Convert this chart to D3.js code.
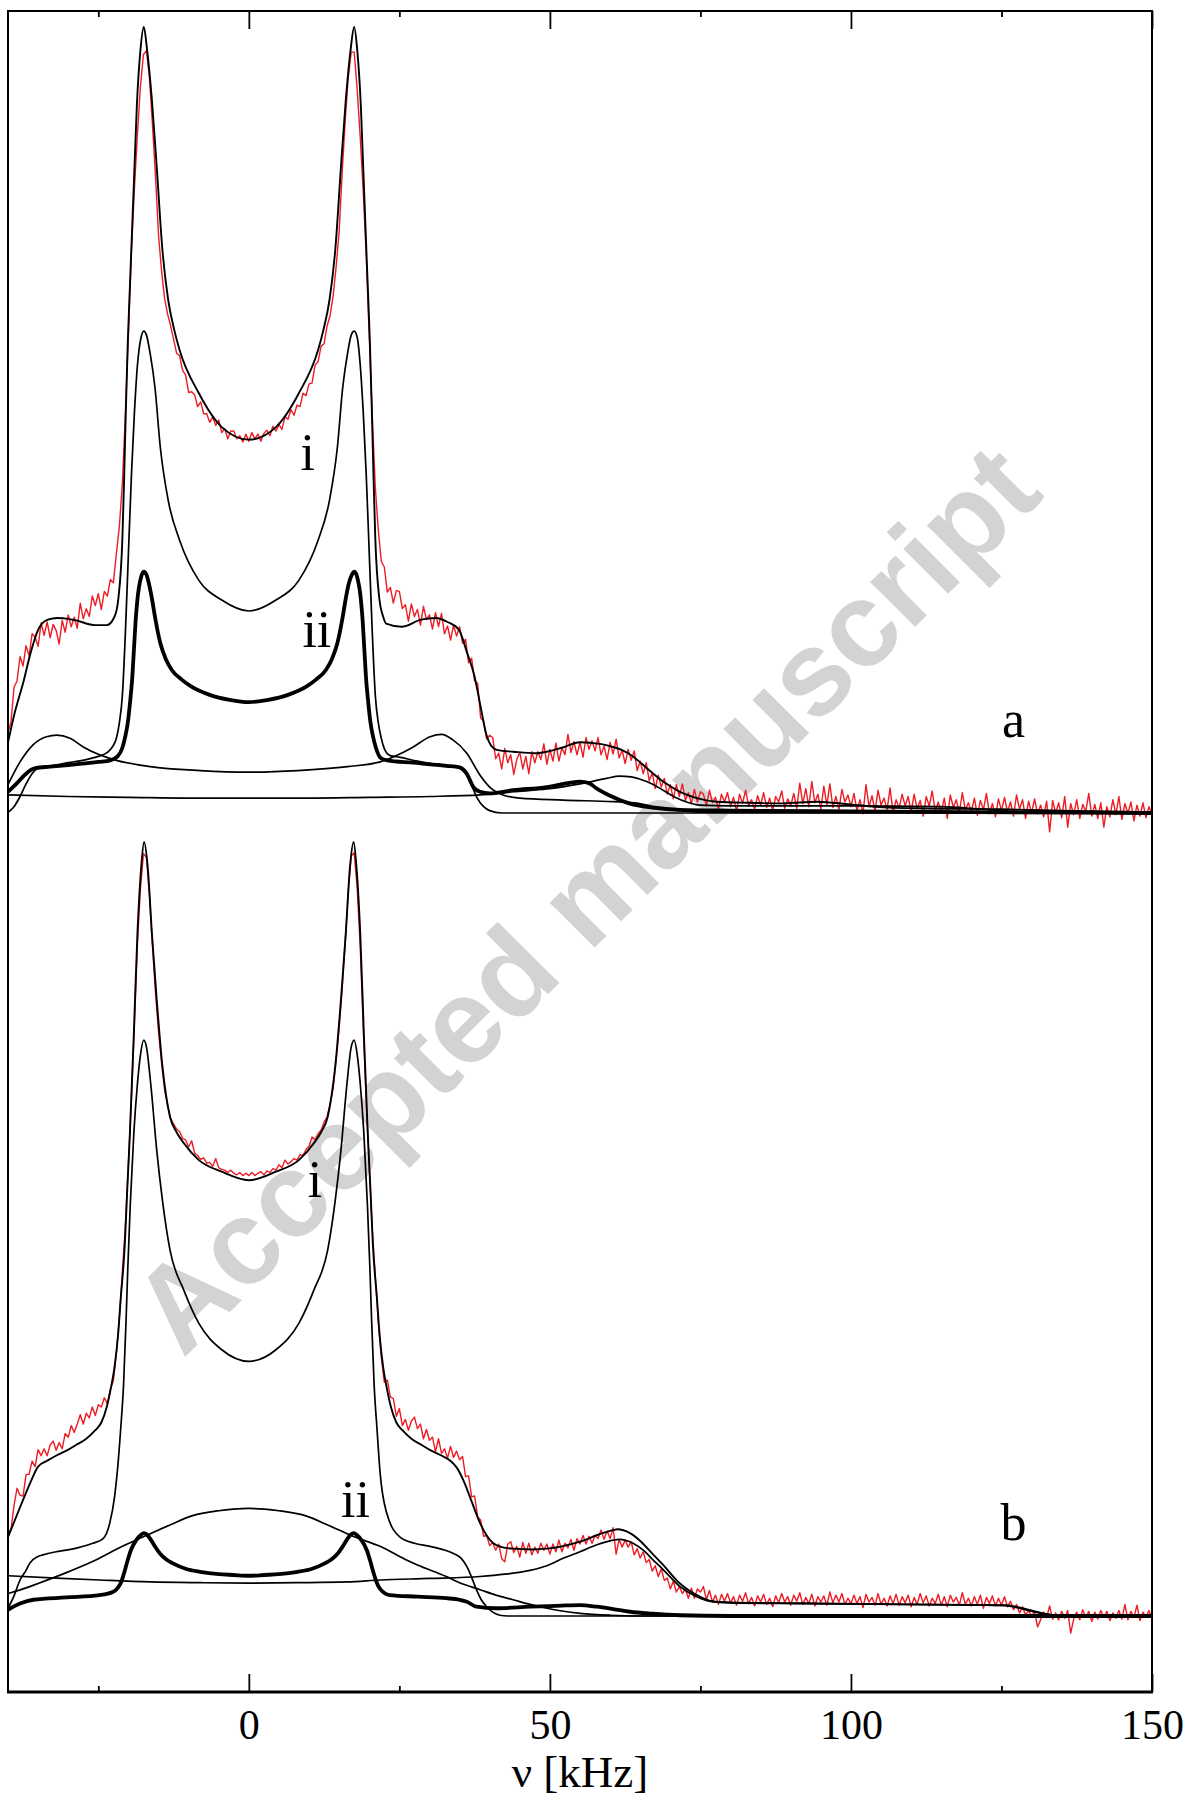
<!DOCTYPE html>
<html><head><meta charset="utf-8">
<script src="https://cdn.jsdelivr.net/npm/d3@7"></script>
<style>body{margin:0;background:#fff} svg{display:block}</style>
</head><body>
<svg id="c" width="1192" height="1800"></svg>
<script>
// ---------------- data ----------------
const freqDomain = [-40, 150];
const majorTicks = [0, 50, 100, 150];
const minorTicks = [-25, 25, 75, 125];
const axisTitle = "ν [kHz]";
const watermark = "Accepted manuscript";
// frequency grid of the measured spectra (0.5 kHz sampling)
const redGrid = d3.range(-40, 150.001, 0.5);

// panel a – measured spectrum (red)
const aRed = [
10.3,11.6,16.0,16.8,19.9,18.7,21.3,20.0,22.8,22.4,21.2,24.2,22.6,24.3,22.3,24.0,23.2,21.5,24.5,23.0,25.2,23.7,24.9,23.5,26.7,24.7,26.0,25.0,27.6,26.4,27.9,25.9,28.2,27.6,29.7,29.3,33.0,
36.5,42.0,51.0,61.0,71.5,79.5,86.5,92.5,96.5,97.0,93.5,87.5,81.0,73.5,69.0,65.5,63.5,62.0,
60.3,58.5,58.2,56.3,55.7,53.5,53.6,53.2,51.7,52.3,50.8,50.8,49.7,50.4,49.3,50.0,48.4,48.9,47.6,48.6,48.6,47.6,48.0,47.2,48.2,47.3,48.4,47.6,48.2,47.3,48.3,48.7,48.0,49.2,48.6,49.4,48.8,50.4,50.1,51.3,50.6,51.9,51.7,53.4,53.1,54.6,54.7,57.0,57.4,59.4,59.7,
62.0,63.3,65.8,69.5,74.0,81.5,88.0,93.5,96.8,96.8,92.0,86.0,79.0,71.0,60.5,50.5,41.5,36.0,
32.0,31.3,28.1,28.7,26.7,28.3,28.2,26.0,26.5,24.4,26.6,25.0,25.9,23.9,26.3,24.6,25.2,23.4,25.5,23.7,25.4,22.8,23.8,22.0,23.9,22.5,23.7,21.6,22.1,19.1,19.7,16.8,16.5,12.1,11.7,9.4,9.9,
9.6,6.9,7.6,5.6,8.2,6.4,7.4,4.9,6.8,7.7,5.6,7.2,5.0,7.8,6.4,7.8,6.8,8.8,6.2,8.1,6.6,8.9,6.6,8.3,7.4,10.0,7.7,9.1,7.4,9.0,7.1,9.6,8.1,9.2,7.9,9.6,7.4,8.5,6.8,9.0,7.5,9.4,7.0,8.0,6.3,8.1,6.7,7.9,5.4,6.6,5.0,6.4,4.1,5.1,3.1,4.8,3.3,4.4,2.4,3.6,1.8,3.6,2.1,3.7,1.6,2.6,1.2,3.0,1.4,2.7,
2.4,0.9,2.9,1.3,2.0,0.5,2.4,1.4,2.6,0.8,
2.0,0.2,2.4,1.2,2.9,0.9,1.7,0.5,2.2,1.0,
2.6,0.7,1.9,0.3,2.1,1.4,2.8,0.6,1.8,0.9,
2.5,0.6,3.8,1.2,3.1,0.8,4.0,1.3,2.4,0.5,
3.4,1.0,3.7,0.7,2.1,0.4,3.0,1.4,2.3,0.8,
2.5,0.3,1.7,-0.1,3.6,0.8,2.2,0.2,2.9,1.0,
1.9,0.4,3.2,0.0,1.7,0.6,2.4,0.9,2.1,0.1,
2.4,0.5,1.6,-0.4,2.1,0.9,2.8,0.2,1.4,0.1,
1.9,-0.7,2.3,0.7,1.7,0.0,2.6,0.4,1.3,0.2,
1.9,-0.3,1.6,0.4,2.5,-0.1,1.2,-0.5,1.8,0.3,
2.0,0.1,1.4,-0.4,2.3,0.5,1.7,-0.7,1.5,0.0,
1.8,-0.1,1.0,-0.5,1.5,-2.4,1.6,0.0,1.3,-0.6,
2.1,-1.8,1.2,-0.2,1.7,-0.7,1.1,0.2,2.5,-0.4,
1.1,-0.7,1.3,-1.8,0.8,-0.5,1.7,-0.2,2.1,-0.8,
1.2,-0.1,1.4,-1.0,1.0,-0.4,1.3,-0.6,0.8,-0.2];

// panel a – total fit and components [kHz, intensity]
const aFit = [[-40,9.0],[-38.8,13.0],[-37.5,16.5],[-36.2,20.5],[-35,23.3],[-33.4,24.6],[-31.8,24.8],[-30,24.7],[-28.7,24.5],[-25.5,23.9],[-23.6,23.9],[-22.3,25.0],[-21.7,27.1],[-21.0,35],[-20.7,43],[-20.4,52],[-20.1,60],[-19.7,68],[-19.4,74],[-19.0,82],[-18.6,90],[-18.0,97.1],[-17.45,100],[-16.9,97.1],[-16.1,90.7],[-15.3,82.2],[-14.35,71.6],[-13.4,65.3],[-12.4,61.5],[-11.5,58.9],[-8.3,53.4],[-4.5,49.1],[0,47.5],[4.5,49.1],[8.3,53.4],[11.5,58.9],[12.4,61.5],[13.4,65.3],[14.35,71.6],[15.3,82.2],[16.1,90.7],[16.9,97.1],[17.5,100],[18.0,97.1],[18.6,90],[19.0,82],[19.4,74],[19.7,68],[20.1,60],[20.4,52],[20.7,43],[21.0,35],[21.7,27.1],[22.3,25.0],[22.8,24.1],[25.4,23.7],[28.6,24.6],[31.1,24.8],[33,24.3],[34.9,23.3],[36.2,20.5],[37.5,17.3],[38.5,13.5],[39.4,10.1],[40.3,8.5],[41.3,8.0],[43.9,7.8],[47.6,7.6],[49.5,7.8],[52,8.3],[55,9.0],[58.3,8.8],[60.5,8.4],[62,8.0],[63.8,7.2],[66.1,5.7],[68.8,4.0],[71.6,2.7],[74.4,1.9],[77.7,1.44],[83,1.3],[88.8,1.23],[94.3,1.44],[99.8,1.1],[105.4,0.72],[110.9,0.6],[124.8,0.47],[135,0.3],[150,0.1]];
const aI = [[-40,0.1],[-39,0.8],[-38,2.1],[-37,3.7],[-36,5.0],[-35,5.7],[-33,6.0],[-30,6.4],[-27,6.8],[-25,7.2],[-23.5,7.7],[-22.5,8.6],[-22,9.5],[-21.5,11.5],[-21.0,15],[-20.5,23],[-20.0,33],[-19.5,43],[-19.0,51],[-18.5,57],[-17.9,60.5],[-17.45,61.3],[-17.0,60.8],[-16.4,58.5],[-15.6,54.2],[-14.7,46.5],[-13.4,39.8],[-11.5,34.7],[-8.3,29.6],[-4.5,27.1],[0,25.7],[4.5,27.1],[8.3,29.6],[11.5,34.7],[13.4,39.8],[14.7,46.5],[15.6,54.2],[16.4,58.5],[17.0,60.8],[17.5,61.3],[18.0,60.5],[18.5,57],[19.0,51],[19.5,43],[20.0,33],[20.5,23],[21.0,15],[21.5,11.5],[22,9.5],[22.5,8.2],[23.5,7.3],[25,7.1],[28,6.6],[31,6.2],[34,5.9],[35,5.7],[36,5.0],[37,3.5],[38,1.8],[39,0.8],[40,0.3],[42,0],[150,0]];
const aII = [[-40,2.7],[-38.5,3.8],[-37,5.0],[-35.5,5.7],[-33,5.9],[-30,6.1],[-25,6.5],[-23,6.7],[-21.8,7.2],[-21.0,8.3],[-20.5,9.8],[-20.1,11.5],[-19.7,14.3],[-19.4,16.8],[-19.1,20.6],[-18.8,24.5],[-18.5,27.2],[-17.9,30.0],[-17.45,30.7],[-17.0,30.3],[-16.6,29.2],[-16.1,27.3],[-15.6,25.0],[-14.7,21.6],[-13.8,19.6],[-12.8,18.2],[-11.2,17.0],[-9.6,16.1],[-6.4,15.0],[-3.2,14.4],[0,14.1],[3.2,14.4],[6.4,15.0],[9.6,16.1],[11.2,17.0],[12.8,18.2],[13.8,19.6],[14.7,21.6],[15.6,25.0],[16.1,27.3],[16.6,29.2],[17.1,30.3],[17.55,30.7],[18.0,30.0],[18.6,27.2],[18.9,24.5],[19.2,20.6],[19.5,16.8],[19.8,14.3],[20.2,11.5],[20.6,9.8],[21.1,8.3],[21.9,7.0],[23,6.7],[27.3,6.4],[32.8,6.0],[35,5.8],[36.2,5.0],[37.3,3.3],[38.4,2.7],[40,2.5],[43.9,2.9],[49.5,3.3],[53,3.8],[55,4.0],[56.5,3.8],[57.8,3.1],[60,2.2],[63.3,1.2],[67,0.7],[71.6,0.4],[80,0.3],[100,0.2],[120,0.1],[150,0]];
const aP = [[-40,3.6],[-38,6.5],[-35.8,8.7],[-33.6,9.7],[-31.9,9.9],[-29.7,9.5],[-27.5,8.4],[-24.8,7.4],[-22,6.7],[-16.4,5.9],[-8.1,5.4],[0,5.2],[8.1,5.4],[16.4,5.9],[21.8,6.5],[24.8,7.4],[27.3,8.4],[30.1,9.7],[32.0,10.0],[33.9,9.3],[36.2,7.6],[38.4,4.8],[40,3.3],[42.2,2.3],[45,1.9],[52.2,1.65],[60.5,1.44],[64,1.3],[66.1,1.0],[68,0.6],[71.6,0.3],[76,0.1],[150,0]];
const aW = [[-40,2.3],[-30,2.1],[-20,2.0],[-10,1.9],[0,1.9],[10,1.9],[20,2.0],[30,2.1],[38.4,2.3],[43.9,2.7],[49.5,3.05],[55,3.7],[59.4,4.4],[61.6,4.7],[63.5,4.6],[65,4.3],[67,3.7],[68.8,2.9],[70.8,2.0],[72.7,1.4],[74.9,1.0],[80,0.9],[100,0.9],[115,0.8],[120,0.6],[125,0.3],[130,0.1],[150,0]];

// panel b – measured spectrum (red)
const bRed = [
10.7,11.2,14.3,16.5,15.6,15.5,18.3,18.3,20.0,19.3,21.5,20.7,21.6,20.7,22.1,22.6,21.4,22.4,21.6,23.6,23.1,24.6,23.7,24.8,26.0,24.8,26.2,25.6,27.0,25.9,27.3,27.0,28.2,27.4,29.3,30.4,34.0,
38.5,44.5,50.5,58.5,67.0,76.5,87.0,94.0,98.5,98.0,93.0,86.5,80.5,75.5,71.5,68.0,66.0,64.3,
63.6,62.9,62.6,61.7,61.5,60.6,61.4,59.8,59.5,59.0,59.2,58.5,58.6,58.1,59.1,57.9,57.7,57.6,57.3,57.6,57.2,57.0,57.3,56.9,57.2,56.9,57.3,56.9,57.2,57.4,57.0,57.5,57.3,57.8,57.6,58.3,57.9,58.9,58.4,58.7,59.1,58.9,59.6,59.5,60.3,60.7,61.9,61.5,62.3,62.8,63.8,
64.5,66.2,68.2,71.8,76.0,81.0,87.0,93.5,98.2,98.6,94.0,86.5,76.0,66.5,58.0,50.0,44.0,38.0,
33.4,30.2,30.5,28.3,28.1,25.8,26.8,24.6,25.4,24.0,25.2,25.7,24.2,24.8,22.9,24.1,22.7,23.1,21.2,22.9,21.0,21.6,20.4,21.9,20.5,21.3,20.2,20.6,18.0,18.1,15.4,15.5,12.8,12.4,10.3,10.4,9.1,
9.5,8.5,9.3,7.4,7.0,9.3,9.6,8.2,9.0,7.6,9.5,8.1,9.4,7.9,8.9,8.1,9.4,8.5,9.3,8.0,9.3,8.3,9.8,8.3,9.4,8.8,9.9,8.5,10.0,9.3,10.4,9.3,10.3,9.4,10.4,10.0,11.1,9.9,11.0,10.0,11.4,8.0,9.9,8.9,9.8,8.9,9.6,7.9,8.7,7.5,8.3,6.9,7.3,5.8,6.5,5.1,6.1,4.6,4.9,3.5,4.5,3.1,3.8,2.9,3.5,2.3,3.6,2.3,3.5,3.1,
3.8,2.1,3.3,1.8,2.7,1.5,2.8,1.9,2.9,1.7,
2.5,1.4,2.7,1.9,3.0,1.6,2.4,1.3,2.6,1.8,
2.8,1.5,2.3,1.2,2.6,1.7,2.9,1.8,2.5,1.4,
2.7,1.9,3.0,1.5,2.4,1.6,2.8,1.3,2.5,1.8,
2.6,1.4,3.1,1.7,2.7,1.8,2.9,1.5,2.3,1.6,
2.7,1.6,2.5,1.1,2.8,1.8,2.4,1.4,2.9,1.5,
2.3,1.3,2.6,1.6,2.8,1.4,2.5,1.7,2.7,1.2,
2.4,1.5,2.9,1.7,2.6,1.3,2.3,1.6,2.8,1.4,
2.5,1.2,2.7,1.8,2.4,1.4,3.0,1.5,2.3,1.3,
2.5,1.5,2.7,1.0,2.4,1.6,2.6,1.3,2.3,1.4,
2.5,1.2,1.9,0.8,1.5,0.4,1.2,0.1,0.7,0.0,
0.6,-1.4,-0.5,0.5,-0.2,1.3,-0.4,0.4,-0.5,0.6,
-0.3,0.7,-2.2,-0.4,0.5,-0.5,0.8,-0.2,0.6,-0.7,
0.5,-0.4,0.7,-0.2,0.6,-0.6,0.4,-0.3,0.7,-0.4,
1.5,-0.5,0.6,-0.2,1.4,-0.6,0.5,-0.1,0.7,-0.3];

// panel b – total fit and components
const bFit = [[-40,10.2],[-38.8,12.5],[-37.5,15.0],[-36.2,17.4],[-35,19.3],[-33.4,20.1],[-31.8,20.8],[-30.2,21.4],[-28.7,22.1],[-27,22.9],[-25.5,24.0],[-24.5,25.0],[-23.6,27.0],[-22.9,29.5],[-22.3,32.2],[-21.7,36.5],[-21.3,40.8],[-20.6,48],[-20.2,55],[-19.75,62.4],[-19.1,75.3],[-18.5,88.2],[-17.9,96.5],[-17.4,100],[-16.8,96.8],[-16.1,88.2],[-15.3,79.6],[-14.35,71.0],[-13.1,64.5],[-12,62.5],[-10.8,61.1],[-8.3,58.9],[-4.5,57.4],[0,56.3],[4.5,57.4],[8.3,58.9],[10.8,61.1],[12,62.5],[13.1,64.5],[14.35,71.0],[15.3,79.6],[16.1,88.2],[16.8,96.8],[17.4,100],[17.9,96.5],[18.5,88.2],[19.1,75.3],[19.75,62.4],[20.2,55],[20.6,48],[21.3,40.8],[21.7,36.5],[22.3,32.2],[22.9,29.5],[23.6,27.0],[24.5,25.0],[25.5,24.0],[27,22.9],[28.7,22.1],[30.2,21.4],[31.8,20.8],[33.4,20.1],[34.5,19.2],[35.6,17.6],[37,14.8],[38.4,12.0],[39.5,10.4],[40.6,9.4],[42,8.9],[43.9,8.7],[47,8.6],[49.5,8.7],[52,9.0],[55,9.6],[58,10.5],[60.5,11.1],[61.2,11.2],[63.3,10.7],[65,9.7],[67.2,7.9],[68.8,6.6],[71.6,4.2],[74.9,2.5],[77,1.9],[80,1.75],[92.2,1.64],[109,1.5],[125.7,1.4],[128.5,1.0],[130.7,0.55],[134,0.1],[150,0]];
const bI = [[-40,1.0],[-39,2.6],[-38,4.65],[-37,5.9],[-36.4,6.8],[-35,7.7],[-34.2,7.9],[-32,8.3],[-30.3,8.5],[-28,8.9],[-25.9,9.4],[-24.2,10.0],[-23.1,12.0],[-22.3,15.4],[-21.8,19],[-21.3,24],[-20.8,30],[-20.4,38],[-20.1,45],[-19.7,53],[-19.1,62.4],[-18.5,68.8],[-18,72.5],[-17.45,74.4],[-17,73.5],[-16.3,68.8],[-15.3,60.2],[-14.35,53.7],[-13.1,47.3],[-10.8,42.1],[-8.3,37.8],[-4.5,34.4],[0,32.9],[4.5,34.4],[8.3,37.8],[10.8,42.1],[13.1,47.3],[14.35,53.7],[15.3,60.2],[16.3,68.8],[17,73.5],[17.5,74.4],[18,72.5],[18.5,68.8],[19.1,62.4],[19.7,53],[20.1,45],[20.4,38],[20.8,30],[21.3,24],[21.8,18.5],[22.9,13.3],[25.1,10.2],[27.5,9.4],[30.1,9.0],[33.9,8.1],[35.2,7.5],[36.2,6.4],[37,5.0],[37.8,3.4],[38.6,2.1],[39.5,1.2],[40.5,0.5],[41.7,0.1],[43,0],[150,0]];
const bII = [[-40,0.8],[-38,1.6],[-35.8,2.1],[-30.3,2.4],[-24.8,2.7],[-22.6,3.1],[-21.8,3.6],[-21.2,4.4],[-20.7,5.6],[-20.2,7.0],[-19.6,8.5],[-18.7,9.8],[-17.9,10.5],[-17.45,10.7],[-16.9,10.5],[-16.4,10.0],[-15.6,9.0],[-14.8,8.1],[-13.7,7.3],[-12.6,6.8],[-10.5,6.1],[-8.1,5.7],[-5,5.4],[-2.6,5.3],[0,5.2],[2.6,5.3],[5,5.4],[8.1,5.7],[10.5,6.1],[12.6,6.8],[13.7,7.3],[14.8,8.1],[15.6,9.0],[16.4,10.0],[16.9,10.5],[17.45,10.7],[17.9,10.5],[18.7,9.8],[19.6,8.5],[20.2,7.0],[20.7,5.6],[21.2,4.4],[21.8,3.5],[23.4,2.7],[28,2.5],[32.8,2.3],[35,2.1],[36.2,1.85],[37.8,1.2],[41.1,1.0],[46.7,1.2],[52,1.35],[55,1.4],[57.8,1.2],[60.5,0.9],[63.3,0.55],[67,0.3],[71.6,0.1],[80,0],[150,0]];
const bH = [[-40,2.9],[-37.5,3.5],[-35,4.2],[-30,5.7],[-25.5,7.2],[-21,9.0],[-17.6,10.2],[-13,11.8],[-9.6,12.9],[-5,13.6],[-2.6,13.8],[0,13.9],[2.6,13.8],[5,13.6],[9.6,12.9],[13,11.8],[17.6,10.2],[21.8,9.0],[26,7.3],[28,6.6],[32.8,5.1],[35,4.3],[38.4,3.4],[41,2.7],[43.9,2.1],[46.7,1.5],[49.5,1.0],[52,0.65],[55,0.35],[60,0.1],[65,0],[150,0]];
const bF = [[-40,5.2],[-32,4.9],[-24.8,4.65],[-16.4,4.4],[-8,4.3],[0,4.25],[8,4.3],[16.4,4.4],[21.8,4.65],[30,4.85],[38.4,5.1],[42.5,5.4],[46.7,5.9],[49.5,6.5],[52.2,7.45],[55,8.3],[57.8,9.2],[60.5,9.8],[61.5,9.9],[63.8,9.4],[65.5,8.5],[67.2,7.2],[68.8,6.0],[71.6,3.8],[74.4,2.5],[77,1.85],[80,1.7],[92,1.6],[109,1.5],[122,1.4],[126,1.3],[128,1.0],[130.7,0.5],[134,0.1],[140,0],[150,0]];

// annotations [panel, label, kHz, intensity(baseline)]
const labels = [[0,"i",9.8,43.6],[0,"ii",11.3,21.1],[0,"a",127,9.7],[1,"i",11.0,54.1],[1,"ii",17.7,12.8],[1,"b",127,9.8]];

// ---------------- drawing ----------------
const svg = d3.select("#c");
const W = 1192, H = 1800;
const L = 8, R = 1152, T = 11, B = 1692;
const x = d3.scaleLinear().domain(freqDomain).range([L, R]);
const panels = [
  {y: d3.scaleLinear().domain([0, 100]).range([813, 27]), red: aRed, fit: aFit, thin: [aW, aP, aI], thick: aII},
  {y: d3.scaleLinear().domain([0, 100]).range([1616, 842]), red: bRed, fit: bFit, thin: [bF, bH, bI], thick: bII}
];

svg.append("rect").attr("width", W).attr("height", H).attr("fill", "#fff");

// watermark (behind)
svg.append("text")
  .attr("transform", "translate(584,897) rotate(-45)")
  .attr("text-anchor", "middle").attr("dy", "0.36em")
  .attr("font-family", "'Liberation Sans', Arial, sans-serif")
  .attr("font-weight", "bold").attr("font-size", 120)
  .attr("fill", "#d3d3d3")
  .text(watermark);

svg.append("clipPath").attr("id", "clip").append("rect")
  .attr("x", L).attr("y", T).attr("width", R - L).attr("height", B - T);
const g = svg.append("g").attr("clip-path", "url(#clip)");

panels.forEach(p => {
  const lineRed = d3.line().x((d, i) => x(redGrid[i])).y(d => p.y(d));
  const smooth = d3.line().x(d => x(d[0])).y(d => p.y(d[1])).curve(d3.curveMonotoneX);
  g.append("path").datum(p.red).attr("d", lineRed)
    .attr("fill", "none").attr("stroke", "#ed1c24").attr("stroke-width", 1.4).attr("stroke-linejoin", "round");
  p.thin.forEach(c => g.append("path").datum(c).attr("d", smooth)
    .attr("fill", "none").attr("stroke", "#000").attr("stroke-width", 1.7));
  g.append("path").datum(p.thick).attr("d", smooth)
    .attr("fill", "none").attr("stroke", "#000").attr("stroke-width", 3.8).attr("stroke-linejoin", "round");
  g.append("path").datum(p.fit).attr("d", smooth)
    .attr("fill", "none").attr("stroke", "#000").attr("stroke-width", 1.9);
});

// labels
labels.forEach(([pi, t, kx, v]) => {
  svg.append("text").attr("x", x(kx)).attr("y", panels[pi].y(v))
    .attr("text-anchor", "middle")
    .attr("font-family", "'Liberation Serif', 'Times New Roman', serif")
    .attr("font-size", 52).text(t);
});

// axes
const serif = "'Liberation Serif', 'Times New Roman', serif";
const bottomMajor = svg.append("g").attr("transform", `translate(0,${B})`)
  .call(d3.axisBottom(x).tickValues(majorTicks).tickSize(-18).tickPadding(17).tickFormat(d3.format("d")));
const bottomMinor = svg.append("g").attr("transform", `translate(0,${B})`)
  .call(d3.axisBottom(x).tickValues(minorTicks).tickSize(-6).tickFormat(""));
const topMajor = svg.append("g").attr("transform", `translate(0,${T})`)
  .call(d3.axisTop(x).tickValues(majorTicks).tickSize(-18).tickFormat(""));
const topMinor = svg.append("g").attr("transform", `translate(0,${T})`)
  .call(d3.axisTop(x).tickValues(minorTicks).tickSize(-6).tickFormat(""));
[bottomMajor, bottomMinor, topMajor, topMinor].forEach(a => {
  a.select(".domain").remove();
  a.selectAll(".tick line").attr("stroke", "#000").attr("stroke-width", 1.8);
  a.selectAll(".tick text").attr("font-family", serif).attr("font-size", 42).attr("fill", "#000");
});

// frame
svg.append("rect").attr("x", L).attr("y", T).attr("width", R - L).attr("height", B - T)
  .attr("fill", "none").attr("stroke", "#000").attr("stroke-width", 2);
svg.append("line").attr("x1", L - 1).attr("x2", R + 1).attr("y1", B).attr("y2", B)
  .attr("stroke", "#000").attr("stroke-width", 3);

svg.append("text").attr("x", (L + R) / 2).attr("y", 1787).attr("text-anchor", "middle")
  .attr("font-family", serif).attr("font-size", 45).text(axisTitle);
</script>
</body></html>
